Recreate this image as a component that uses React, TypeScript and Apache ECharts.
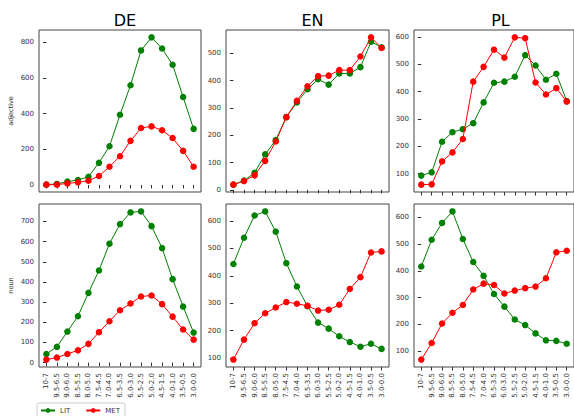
import React, { useEffect, useRef } from "react";
import * as echarts from "echarts";

const categories = ["10-7", "9.5-6.5", "9.0-6.0", "8.5-5.5", "8.0-5.0", "7.5-4.5", "7.0-4.0", "6.5-3.5", "6.0-3.0", "5.5-2.5", "5.0-2.0", "4.5-1.5", "4.0-1.0", "3.5-0.5", "3.0-0.0"];

const deAdjLit = [2, 6, 19, 28, 46, 124, 217, 393, 558, 753, 826, 764, 673, 492, 314];
const deAdjMet = [2, 2, 9, 15, 24, 50, 102, 161, 247, 319, 328, 306, 263, 191, 102];
const enAdjLit = [19, 34, 62, 130, 182, 266, 320, 368, 405, 385, 426, 426, 449, 542, 522];
const enAdjMet = [19, 32, 53, 106, 177, 266, 326, 379, 416, 418, 438, 438, 488, 558, 519];
const plAdjLit = [93, 105, 217, 252, 263, 285, 361, 433, 437, 455, 534, 496, 444, 466, 366];
const plAdjMet = [60, 61, 145, 178, 227, 437, 491, 554, 525, 599, 596, 434, 390, 413, 364];
const deNounLit = [43, 78, 154, 230, 346, 457, 590, 687, 745, 750, 677, 568, 414, 278, 149];
const deNounMet = [15, 25, 43, 61, 93, 151, 205, 260, 293, 328, 333, 290, 228, 164, 114];
const enNounLit = [443, 539, 620, 635, 561, 446, 361, 289, 229, 207, 179, 158, 141, 152, 133];
const enNounMet = [94, 167, 227, 263, 284, 304, 298, 290, 273, 276, 294, 352, 395, 485, 489];
const plNounLit = [416, 516, 579, 622, 519, 433, 381, 313, 266, 218, 197, 166, 140, 138, 127];
const plNounMet = [68, 130, 203, 243, 272, 330, 352, 347, 315, 326, 335, 341, 372, 469, 475];

const titles = ["DE", "EN", "PL"];
const rowNames = ["adjective", "noun"];
const seriesNames = ["LIT", "MET"];
const colors = ["#008000", "#ff0000"];

const yTicks = [
  [0, 200, 400, 600, 800],
  [0, 100, 200, 300, 400, 500],
  [100, 200, 300, 400, 500, 600],
  [0, 100, 200, 300, 400, 500, 600, 700],
  [100, 200, 300, 400, 500, 600],
  [100, 200, 300, 400, 500, 600],
];

const panelData = [
  [deAdjLit, deAdjMet],
  [enAdjLit, enAdjMet],
  [plAdjLit, plAdjMet],
  [deNounLit, deNounMet],
  [enNounLit, enNounMet],
  [plNounLit, plNounMet],
];

const lefts = [39, 226, 414];
const widths = [162, 163, 163];
const tops = [30, 204];
const heights = [162, 163];

export default function App() {
  const ref = useRef<HTMLDivElement>(null);
  useEffect(() => {
    if (!ref.current) return;
    const chart = echarts.init(ref.current, null, { renderer: "svg" });
    const idx = categories.map((_, i) => i);
    const grid: any[] = [];
    const xAxis: any[] = [];
    const yAxis: any[] = [];
    const series: any[] = [];
    for (let p = 0; p < 6; p++) {
      const r = Math.floor(p / 3);
      const c = p % 3;
      grid.push({
        left: lefts[c],
        top: tops[r],
        width: widths[c],
        height: heights[r],
        show: true,
        borderColor: "#444",
        borderWidth: 1,
        backgroundColor: "transparent",
      });
      xAxis.push({
        type: "value",
        gridIndex: p,
        min: -0.7,
        max: 14.7,
        axisLine: { show: false },
        splitLine: { show: false },
        axisTick: { show: true, length: 3.5, lineStyle: { color: "#333" }, customValues: idx },
        axisLabel: {
          show: r === 1,
          customValues: idx,
          rotate: 90,
          fontSize: 7,
          color: "#333",
          margin: 6,
          fontFamily: "DejaVu Sans",
          formatter: (v: number) => categories[Math.round(v)] ?? "",
        },
      });
      yAxis.push({
        type: "value",
        gridIndex: p,
        min: (e: any) => e.min - 0.05 * (e.max - e.min),
        max: (e: any) => e.max + 0.05 * (e.max - e.min),
        axisLine: { show: false },
        splitLine: { show: false },
        axisTick: { show: true, length: 3.5, lineStyle: { color: "#333" }, customValues: yTicks[p] },
        axisLabel: {
          customValues: yTicks[p],
          fontSize: 7,
          color: "#333",
          margin: 5,
          fontFamily: "DejaVu Sans",
        },
        name: c === 0 ? rowNames[r] : "",
        nameLocation: "middle",
        nameRotate: 90,
        nameGap: 25,
        nameTextStyle: { fontSize: 6.5, color: "#333", fontFamily: "DejaVu Sans" },
      });
      panelData[p].forEach((vals, s) => {
        series.push({
          type: "line",
          name: seriesNames[s],
          xAxisIndex: p,
          yAxisIndex: p,
          data: vals.map((v, i) => [i, v]),
          symbol: "circle",
          symbolSize: 6.5,
          color: colors[s],
          lineStyle: { width: 1, color: colors[s] },
          itemStyle: { color: colors[s] },
          z: s === 0 ? 2 : 3,
        });
      });
    }
    chart.setOption({
      animation: false,
      backgroundColor: "#fff",
      title: titles.map((t, c) => ({
        text: t,
        left: lefts[c] + widths[c] / 2,
        top: 7,
        textAlign: "center",
        textStyle: { fontSize: 16, fontWeight: "normal", color: "#000", fontFamily: "DejaVu Sans" },
      })),
      legend: {
        data: seriesNames,
        left: 37,
        top: 403,
        orient: "horizontal",
        itemWidth: 14,
        itemHeight: 6,
        itemGap: 15,
        padding: [4, 5, 8, 3],
        borderColor: "#ccc",
        borderWidth: 1,
        borderRadius: 2,
        textStyle: { fontSize: 7, color: "#333", fontFamily: "DejaVu Sans" },
      },
      grid,
      xAxis,
      yAxis,
      series,
    });
    return () => chart.dispose();
  }, []);
  return <div ref={ref} style={{ position: "fixed", left: 0, top: 0, width: 574, height: 416 }} />;
}
